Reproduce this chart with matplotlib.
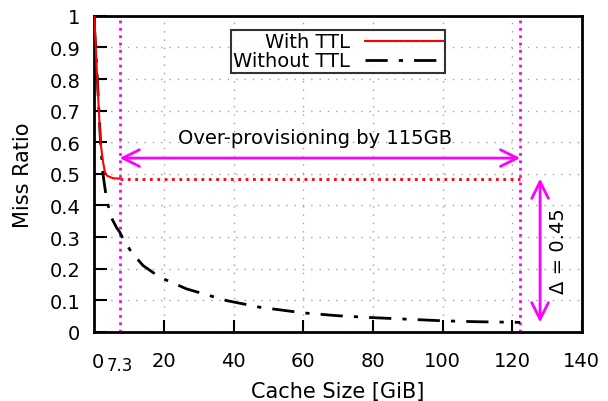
import numpy as np
import matplotlib.pyplot as plt

plt.rcParams['font.family'] = ['DejaVu Sans']

# cache size (GiB) vs miss ratio
ttl_x = [0.0, 0.2, 0.6, 1.15, 1.8, 2.5, 3.07, 3.6, 4.5, 5.5, 7.3]
ttl_y = [1.0, 0.96, 0.86, 0.737, 0.60, 0.54, 0.505, 0.495, 0.49, 0.486, 0.485]

nottl_x = [0.0, 0.3, 0.8, 1.3, 1.8, 2.5, 3.4, 4.0, 5.0, 6.4, 7.3, 8.5, 10.7, 14.0,
           18.8, 26.5, 38.0, 47.5, 60.0, 70.0, 80.0, 90.0, 100.0, 110.0, 122.3]
nottl_y = [0.97, 0.92, 0.82, 0.71, 0.60, 0.50, 0.43, 0.40, 0.36, 0.33, 0.316, 0.29,
           0.252, 0.21, 0.173, 0.136, 0.099, 0.078, 0.06, 0.051, 0.045, 0.040, 0.035,
           0.032, 0.03]

x_ticks = [20, 40, 60, 80, 100, 120, 140]
y_ticks = [0, 0.1, 0.2, 0.3, 0.4, 0.5, 0.6, 0.7, 0.8, 0.9, 1]
y_labels = ['0', '0.1', '0.2', '0.3', '0.4', '0.5', '0.6', '0.7', '0.8', '0.9', '1']

knee = 7.3
over = 115
ttl_floor = 0.485
nottl_end = 0.03

MAG = '#ff00ff'

fig = plt.figure(figsize=(6.08, 4.02), dpi=100)
ax = fig.add_axes([0.155, 0.172, 0.802, 0.786])

l_no, = ax.plot(nottl_x, nottl_y, color='black', lw=2, dashes=(8, 4, 1.5, 4),
                label='Without TTL', zorder=3)
l_ttl, = ax.plot(ttl_x, ttl_y, color='red', lw=1.5, label='With TTL', zorder=4)

# guide lines
ax.axvline(knee, color=MAG, ls=':', lw=2, zorder=2)
ax.axvline(knee + over, color=MAG, ls=':', lw=2, zorder=2)
ax.plot([knee, knee + over], [ttl_floor, ttl_floor], color='red', ls=':', lw=2, zorder=2)

ax.annotate('', xy=(knee + over, 0.55), xytext=(knee, 0.55),
            arrowprops=dict(arrowstyle='<->', color=MAG, lw=2, mutation_scale=30,
                            shrinkA=0, shrinkB=0))
ax.text(63.5, 0.615, 'Over-provisioning by %dGB' % over, ha='center', va='center',
        fontsize=14)

ax.annotate('', xy=(128, nottl_end), xytext=(128, ttl_floor),
            arrowprops=dict(arrowstyle='<->', color=MAG, lw=2, mutation_scale=30,
                            shrinkA=0, shrinkB=0))
ax.text(133.2, (ttl_floor + nottl_end) / 2, '\u0394 = %.2f' % (ttl_floor - nottl_end),
        rotation=90, ha='center', va='center', fontsize=14)

ax.set_xlim(0, 140)
ax.set_ylim(0, 1)
ax.set_xticks(x_ticks)
ax.set_yticks(y_ticks)
ax.set_yticklabels(y_labels)
ax.tick_params(direction='in', length=9, width=1.5, labelsize=14, pad=10)
ax.tick_params(axis='x', pad=14)
ax.grid(True, color='#a0a0a0', ls=(0, (1, 5)), lw=1)
for s in ax.spines.values():
    s.set_linewidth(2)

# special origin / knee labels
ax.text(1.0, -0.063, '0', ha='center', va='top', fontsize=14, clip_on=False)
ax.text(knee, -0.077, '7.3', ha='center', va='top', fontsize=12, clip_on=False)

ax.set_xlabel('Cache Size [GiB]', fontsize=15, labelpad=8)
ax.set_ylabel('Miss Ratio', fontsize=15, labelpad=12)

leg = ax.legend([l_ttl, l_no], ['With TTL', 'Without TTL'], loc='upper center',
                bbox_to_anchor=(0.5, 0.955), markerfirst=False,
                fontsize=14, frameon=True, fancybox=False, edgecolor='black',
                handlelength=4.0, borderpad=0.12, labelspacing=0.0, handletextpad=0.8,
                borderaxespad=0)
leg.get_frame().set_linewidth(1.5)
for t in leg.get_texts():
    t.set_ha('right')

fig.savefig('out.png', dpi=100)
